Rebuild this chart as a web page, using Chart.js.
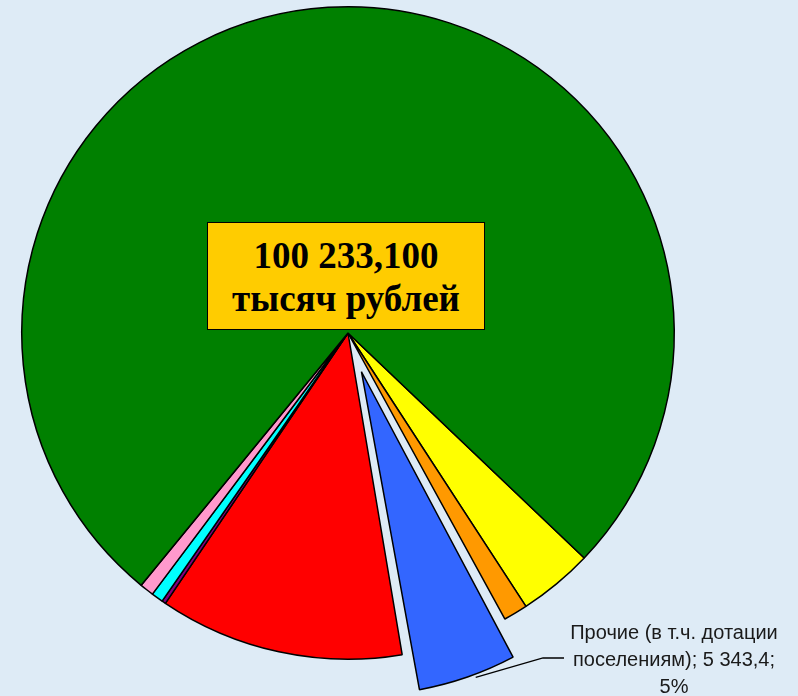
<!DOCTYPE html>
<html>
<head>
<meta charset="utf-8">
<script src="https://cdn.jsdelivr.net/npm/chart.js@4"></script>
<style>
html,body{margin:0;padding:0;background:#DEEBF6;width:798px;height:696px;overflow:hidden;}
#wrap{position:absolute;left:-61px;top:-76px;width:870px;height:818px;}
#box{position:absolute;left:207px;top:222px;width:278px;height:108px;background:#FFCC00;border:1.5px solid #000;
 font-family:"Liberation Serif","Times New Roman",serif;font-weight:bold;font-size:37px;text-align:center;line-height:43px;padding-top:11px;box-sizing:border-box;color:#000;}
</style>
</head>
<body>
<div id="wrap"><canvas id="c" width="870" height="818"></canvas></div>
<div id="box">100 233,100<br>тысяч рублей</div>
<script>
const categories = ["Категория 1","Категория 2","Прочие (в т.ч. дотации поселениям)","Категория 4","Категория 5","Категория 6","Категория 7","Категория 8"];
const values = [3717, 1197, 5343.4, 12139, 195, 585, 696, 76360.7];
const colors = ["#FFFF00","#FF9900","#3366FF","#FF0000","#800080","#00FFFF","#FF99CC","#008000"];
const offsets = [0, 0, 164, 0, 0, 0, 0, 0];
const labelLines = ["Прочие (в т.ч. дотации", "поселениям); 5 343,4;", "5%"];
const EXPLODED = 2;

function radiusOffsetOf(arc, off) {
  const circ = arc.endAngle - arc.startAngle;
  return (off / 4) * (1 - Math.sin(Math.min(Math.PI, circ)));
}

const explodePlugin = {
  id: 'explodeFix',
  beforeDatasetsDraw(chart) {
    const meta = chart.getDatasetMeta(0);
    const base = meta.data[0].outerRadius;
    const arc = meta.data[EXPLODED];
    arc.outerRadius = base - radiusOffsetOf(arc, offsets[EXPLODED]) - 3;
  }
};

const labelPlugin = {
  id: 'leader',
  afterDatasetsDraw(chart) {
    const ctx = chart.ctx;
    const arc = chart.getDatasetMeta(0).data[EXPLODED];
    const mid = (arc.startAngle + arc.endAngle) / 2;
    const d = offsets[EXPLODED] / 4;
    const r = arc.outerRadius + radiusOffsetOf(arc, offsets[EXPLODED]);
    const ox = arc.x + Math.cos(mid) * d, oy = arc.y + Math.sin(mid) * d;
    const ang = arc.startAngle + (arc.endAngle - arc.startAngle) * 0.43;
    const sx = ox + Math.cos(ang) * (r + 3), sy = oy + Math.sin(ang) * (r + 3);
    ctx.save();
    ctx.strokeStyle = '#000';
    ctx.lineWidth = 1.3;
    ctx.beginPath();
    ctx.moveTo(sx, sy);
    ctx.lineTo(604, 734);
    ctx.lineTo(625, 734);
    ctx.stroke();
    ctx.fillStyle = '#1a1a1a';
    ctx.font = '20px "Liberation Sans", Arial, sans-serif';
    ctx.textAlign = 'center';
    ctx.textBaseline = 'middle';
    const ys = [709, 736, 763];
    labelLines.forEach((t, i) => ctx.fillText(t, 735, ys[i]));
    ctx.restore();
  }
};

new Chart(document.getElementById('c'), {
  type: 'pie',
  data: {
    labels: categories,
    datasets: [{
      data: values,
      backgroundColor: colors,
      borderColor: '#000',
      borderWidth: 1.5,
      offset: offsets
    }]
  },
  options: {
    responsive: false,
    animation: false,
    rotation: 133.6,
    layout: { padding: { left: 0, right: 52, top: 0, bottom: 0 } },
    plugins: { legend: { display: false }, tooltip: { enabled: false } }
  },
  plugins: [explodePlugin, labelPlugin]
});
</script>
</body>
</html>
